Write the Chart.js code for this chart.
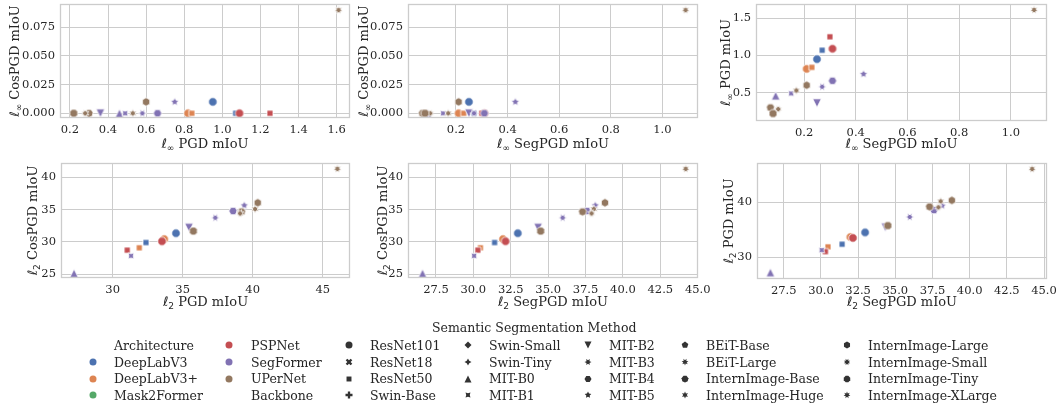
<!DOCTYPE html>
<html>
<head>
<meta charset="utf-8">
<script src="https://cdn.jsdelivr.net/npm/chart.js"></script>
<style>
  body { margin: 0; background: #fff; }
  #wrap { position: relative; width: 1060px; height: 409px; overflow: hidden; font-family: 'DejaVu Serif', serif; color: #262626; }
  #wrap canvas.panel { position: absolute; left: 0; top: 0; }
  .lg { position: absolute; font-size: 12.5px; line-height: 15px; white-space: nowrap; }
  .lgt { position: absolute; font-size: 12.5px; line-height: 15px; white-space: nowrap; }
  .lgm { position: absolute; }
</style>
</head>
<body>
<div id="wrap">
  <canvas id="c1" class="panel" width="1060" height="409"></canvas>
  <canvas id="c2" class="panel" width="1060" height="409"></canvas>
  <canvas id="c3" class="panel" width="1060" height="409"></canvas>
  <canvas id="c4" class="panel" width="1060" height="409"></canvas>
  <canvas id="c5" class="panel" width="1060" height="409"></canvas>
  <canvas id="c6" class="panel" width="1060" height="409"></canvas>
  <div id="legend"></div>
</div>
<script>
// categories
const architectures = ['DeepLabV3', 'DeepLabV3+', 'Mask2Former', 'PSPNet', 'SegFormer', 'UPerNet'];
const backbones = ['ResNet101', 'ResNet18', 'ResNet50', 'Swin-Base', 'Swin-Small', 'Swin-Tiny',
    'MIT-B0', 'MIT-B1', 'MIT-B2', 'MIT-B3', 'MIT-B4', 'MIT-B5', 'BEiT-Base', 'BEiT-Large',
    'InternImage-Base', 'InternImage-Huge', 'InternImage-Large', 'InternImage-Small',
    'InternImage-Tiny', 'InternImage-XLarge'];

// one entry per model
const modelArch = ['DeepLabV3', 'DeepLabV3', 'DeepLabV3+', 'DeepLabV3+', 'PSPNet', 'PSPNet',
    'SegFormer', 'SegFormer', 'SegFormer', 'SegFormer', 'SegFormer', 'SegFormer',
    'UPerNet', 'UPerNet', 'UPerNet', 'UPerNet', 'UPerNet', 'UPerNet'];
const modelBackbone = ['ResNet101', 'ResNet50', 'ResNet101', 'ResNet50', 'ResNet101', 'ResNet50',
    'MIT-B0', 'MIT-B1', 'MIT-B2', 'MIT-B3', 'MIT-B4', 'MIT-B5',
    'InternImage-Base', 'InternImage-Huge', 'InternImage-Large', 'InternImage-Small',
    'InternImage-Tiny', 'InternImage-XLarge'];

// mIoU under attack
const linfPGD    = [0.95, 1.07, 0.82, 0.84, 1.09, 1.25, 0.46, 0.49, 0.36, 0.58, 0.66, 0.75, 0.30, 0.53, 0.60, 0.28, 0.22, 1.61];
const linfCosPGD = [0.01, 0.00, 0.00, 0.00, 0.00, 0.00, 0.00, 0.00, 0.00, 0.00, 0.00, 0.01, 0.00, 0.00, 0.01, 0.00, 0.00, 0.09];
const linfSegPGD = [0.25, 0.27, 0.21, 0.23, 0.31, 0.30, 0.09, 0.15, 0.25, 0.27, 0.31, 0.43, 0.07, 0.17, 0.21, 0.10, 0.08, 1.09];
const l2PGD      = [34.52, 32.38, 33.68, 31.90, 33.52, 31.04, 27.24, 31.31, 35.45, 37.33, 38.60, 39.40, 39.20, 40.17, 40.36, 39.10, 35.76, 46.05];
const l2CosPGD   = [31.33, 29.88, 30.42, 29.07, 30.08, 28.70, 25.10, 27.83, 32.20, 33.73, 34.77, 35.65, 34.66, 35.08, 36.06, 34.40, 31.66, 41.30];
const l2SegPGD   = [32.97, 31.42, 31.98, 30.47, 32.15, 30.30, 26.60, 30.05, 34.33, 35.97, 37.60, 38.15, 37.30, 38.05, 38.80, 37.90, 34.50, 44.20];

// tick labels
const linfPGDTicks    = ['0.2', '0.4', '0.6', '0.8', '1.0', '1.2', '1.4', '1.6'];
const linfSegTicks    = ['0.2', '0.4', '0.6', '0.8', '1.0'];
const linfCosTicks    = ['0.000', '0.025', '0.050', '0.075'];
const linfPGDYTicks   = ['0.5', '1.0', '1.5'];
const l2PGDTicks      = ['30', '35', '40', '45'];
const l2CosTicks      = ['25', '30', '35', '40'];
const l2SegTicks      = ['27.5', '30.0', '32.5', '35.0', '37.5', '40.0', '42.5', '45.0'];
const l2PGDYTicks     = ['30', '40'];

// seaborn "deep" palette
const archColors = {
    'DeepLabV3': '#4c72b0', 'DeepLabV3+': '#dd8452', 'Mask2Former': '#55a868',
    'PSPNet': '#c44e52', 'SegFormer': '#8172b3', 'UPerNet': '#937860'
};
// seaborn default style markers, in backbone order
const markerSpecs = {
    'ResNet101': {t: 'circle'}, 'ResNet18': {t: 'plus', rot: 45}, 'ResNet50': {t: 'poly', n: 4, rot: 45},
    'Swin-Base': {t: 'plus', rot: 0}, 'Swin-Small': {t: 'poly', n: 4, rot: 0}, 'Swin-Tiny': {t: 'star', n: 4, rot: 0},
    'MIT-B0': {t: 'tri'}, 'MIT-B1': {t: 'star', n: 4, rot: 45}, 'MIT-B2': {t: 'tri', down: true},
    'MIT-B3': {t: 'star', n: 6, rot: 30}, 'MIT-B4': {t: 'poly', n: 6, rot: 30}, 'MIT-B5': {t: 'star', n: 5, rot: 0},
    'BEiT-Base': {t: 'poly', n: 5, rot: 0}, 'BEiT-Large': {t: 'star', n: 7, rot: 180 / 7},
    'InternImage-Base': {t: 'poly', n: 7, rot: 180 / 7}, 'InternImage-Huge': {t: 'star', n: 6, rot: 0},
    'InternImage-Large': {t: 'poly', n: 6, rot: 0}, 'InternImage-Small': {t: 'star', n: 8, rot: 22.5},
    'InternImage-Tiny': {t: 'poly', n: 8, rot: 22.5}, 'InternImage-XLarge': {t: 'star', n: 7, rot: 0}
};

const W = 1060, H = 409;
const TEXT = '#262626';
const GRID = '#cccccc';
const tickFont = {family: 'DejaVu Serif', size: 11.5};
const LABEL_SIZE = 13;

function drawShape(ctx, spec, r) {
    ctx.beginPath();
    if (spec.t === 'circle') {
        ctx.arc(0, 0, r, 0, Math.PI * 2);
    } else if (spec.t === 'plus') {
        const pts = [[-1, -3], [1, -3], [1, -1], [3, -1], [3, 1], [1, 1], [1, 3], [-1, 3], [-1, 1], [-3, 1], [-3, -1], [-1, -1]];
        const a = spec.rot * Math.PI / 180;
        pts.forEach(([px, py], i) => {
            const x = (px * Math.cos(a) - py * Math.sin(a)) * r / 3;
            const y = (px * Math.sin(a) + py * Math.cos(a)) * r / 3;
            i ? ctx.lineTo(x, y) : ctx.moveTo(x, y);
        });
        ctx.closePath();
    } else if (spec.t === 'tri') {
        const s = spec.down ? -1 : 1;
        ctx.moveTo(0, -r * s);
        ctx.lineTo(-r, r * s);
        ctx.lineTo(r, r * s);
        ctx.closePath();
    } else {
        const star = spec.t === 'star';
        const cnt = star ? spec.n * 2 : spec.n;
        for (let i = 0; i < cnt; i++) {
            const th = Math.PI / 2 + 2 * Math.PI * i / cnt + spec.rot * Math.PI / 180;
            const rr = star && i % 2 ? r * 0.5 : r;
            const x = rr * Math.cos(th), y = -rr * Math.sin(th);
            i ? ctx.lineTo(x, y) : ctx.moveTo(x, y);
        }
        ctx.closePath();
    }
}

function markerCanvas(spec, color, size, edge) {
    const c = document.createElement('canvas');
    c.width = c.height = 16;
    const g = c.getContext('2d');
    g.translate(8, 8);
    drawShape(g, spec, size / 2);
    g.fillStyle = color;
    g.fill();
    if (edge) {
        g.strokeStyle = '#ffffff';
        g.lineWidth = edge;
        g.stroke();
    }
    return c;
}

const pointImgs = modelArch.map((a, i) => markerCanvas(markerSpecs[modelBackbone[i]], archColors[a], 8.5, 0.8));

// ℓ with a subscript norm, then the rest of the label (like matplotlib mathtext)
function drawMathLabel(ctx, label, cx, cy, rot) {
    const [sub, rest] = label;
    const fs = LABEL_SIZE;
    const fEll = fs + 'px "DejaVu Sans"';
    const fSub = (fs * 0.7) + 'px "DejaVu Sans"';
    const fRest = fs + 'px "DejaVu Serif"';
    ctx.save();
    ctx.translate(cx, cy);
    ctx.rotate(rot);
    ctx.fillStyle = TEXT;
    ctx.textBaseline = 'alphabetic';
    ctx.textAlign = 'left';
    ctx.font = fEll; const w1 = ctx.measureText('ℓ').width;
    ctx.font = fSub; const w2 = ctx.measureText(sub).width;
    ctx.font = fRest; const w3 = ctx.measureText(' ' + rest).width;
    let x = -(w1 + w2 + w3) / 2;
    const by = fs * 0.36;
    ctx.font = fEll; ctx.fillText('ℓ', x, by); x += w1;
    ctx.font = fSub; ctx.fillText(sub, x, by + fs * 0.22); x += w2;
    ctx.font = fRest; ctx.fillText(' ' + rest, x, by);
    ctx.restore();
}

// light gray box around each plot area, plus the axis labels
const frame = {
    id: 'frame',
    afterDatasetsDraw(chart, args, opts) {
        const {left, top, right, bottom} = chart.chartArea;
        const ctx = chart.ctx;
        ctx.save();
        ctx.strokeStyle = GRID;
        ctx.lineWidth = 1.3;
        ctx.strokeRect(Math.round(left) + 0.5, Math.round(top) + 0.5, Math.round(right - left) - 1, Math.round(bottom - top) - 1);
        ctx.restore();
        const p = opts.panel;
        drawMathLabel(ctx, p.xTitle, (left + right) / 2, p.xTitleY, 0);
        drawMathLabel(ctx, p.yTitle, p.yTitleX, (top + bottom) / 2, -Math.PI / 2);
    }
};

function axis(ticksArr, range, fitFn) {
    return {
        type: 'linear',
        min: range[0],
        max: range[1],
        grid: {color: GRID, lineWidth: 1, drawTicks: false},
        border: {display: false},
        ticks: {
            font: tickFont, color: TEXT, padding: 5, autoSkip: false, maxRotation: 0,
            callback: (v, i) => ticksArr[i]
        },
        title: {display: false},
        afterBuildTicks: s => { s.ticks = ticksArr.map(t => ({value: parseFloat(t)})); },
        afterFit: fitFn
    };
}

const panels = [
    {id: 'c1', x: linfPGD, y: linfCosPGD, xt: linfPGDTicks, yt: linfCosTicks,
     xTitle: ['∞', 'PGD mIoU'], yTitle: ['∞', 'CosPGD mIoU'], xTitleY: 143, yTitleX: 14,
     xr: [0.148, 1.67], yr: [-0.0041, 0.0953], box: [60, 4, 350, 118], yw: 50, xh: 30},
    {id: 'c2', x: linfSegPGD, y: linfCosPGD, xt: linfSegTicks, yt: linfCosTicks,
     xTitle: ['∞', 'SegPGD mIoU'], yTitle: ['∞', 'CosPGD mIoU'], xTitleY: 143, yTitleX: 363,
     xr: [0.014, 1.138], yr: [-0.0041, 0.0953], box: [408, 4, 698, 118], yw: 50, xh: 30},
    {id: 'c3', x: linfSegPGD, y: linfPGD, xt: linfSegTicks, yt: linfPGDYTicks,
     xTitle: ['∞', 'SegPGD mIoU'], yTitle: ['∞', 'PGD mIoU'], xTitleY: 143, yTitleX: 725,
     xr: [0.014, 1.14], yr: [0.12, 1.69], box: [756, 4, 1047, 121], yw: 35, xh: 27},
    {id: 'c4', x: l2PGD, y: l2CosPGD, xt: l2PGDTicks, yt: l2CosTicks,
     xTitle: ['2', 'PGD mIoU'], yTitle: ['2', 'CosPGD mIoU'], xTitleY: 301.5, yTitleX: 32,
     xr: [26.31, 46.95], yr: [24.38, 42.22], box: [61, 163, 350, 278], yw: 35, xh: 30},
    {id: 'c5', x: l2SegPGD, y: l2CosPGD, xt: l2SegTicks, yt: l2CosTicks,
     xTitle: ['2', 'SegPGD mIoU'], yTitle: ['2', 'CosPGD mIoU'], xTitleY: 301.5, yTitleX: 382,
     xr: [25.63, 45.02], yr: [24.38, 42.22], box: [408, 163, 698, 278], yw: 35, xh: 30},
    {id: 'c6', x: l2SegPGD, y: l2PGD, xt: l2SegTicks, yt: l2PGDYTicks,
     xTitle: ['2', 'SegPGD mIoU'], yTitle: ['2', 'PGD mIoU'], xTitleY: 301.5, yTitleX: 728,
     xr: [25.7, 45.2], yr: [26.05, 47.15], box: [757, 163, 1047, 279], yw: 35, xh: 29}
];

panels.forEach(p => {
    const [L, T, R, B] = p.box;
    const points = modelArch.map((a, i) => ({x: p.x[i], y: p.y[i]}));
    new Chart(document.getElementById(p.id), {
        type: 'scatter',
        data: {datasets: [{data: points, pointStyle: pointImgs, pointRadius: 4}]},
        options: {
            responsive: false,
            animation: false,
            events: [],
            layout: {autoPadding: false, padding: {left: L - p.yw, top: T, right: W - R, bottom: H - B - p.xh}},
            plugins: {legend: {display: false}, tooltip: {enabled: false}, frame: {panel: p}},
            scales: {
                x: axis(p.xt, p.xr, s => {
                    s.height = p.xh;
                    s.paddingLeft = s.paddingRight = 0;
                }),
                y: axis(p.yt, p.yr, s => {
                    s.width = p.yw;
                    s.paddingTop = s.paddingBottom = 0;
                })
            }
        },
        plugins: [frame]
    });
});

// legend
const legend = document.getElementById('legend');
const legendCols = [[93, 114], [229, 251], [349, 370], [468, 489], [588, 609], [685, 706], [847, 868]];
const legendRows = [345, 362, 378.5, 395];
const items = [{label: 'Architecture'}]
    .concat(architectures.map(a => ({label: a, img: markerCanvas(markerSpecs['ResNet101'], archColors[a], 7, 0)})))
    .concat([{label: 'Backbone'}])
    .concat(backbones.map(b => ({label: b, img: markerCanvas(markerSpecs[b], '#333333', 7, 0)})));

const title = document.createElement('div');
title.className = 'lgt';
title.textContent = 'Semantic Segmentation Method';
legend.appendChild(title);
title.style.left = (534 - title.offsetWidth / 2) + 'px';
title.style.top = (327 - 7.5) + 'px';

items.forEach((it, k) => {
    const [mx, tx] = legendCols[Math.floor(k / 4)];
    const y = legendRows[k % 4];
    const d = document.createElement('div');
    d.className = 'lg';
    d.textContent = it.label;
    d.style.left = tx + 'px';
    d.style.top = (y - 7.5) + 'px';
    legend.appendChild(d);
    if (it.img) {
        it.img.className = 'lgm';
        it.img.style.left = (mx - 8) + 'px';
        it.img.style.top = (y - 8) + 'px';
        legend.appendChild(it.img);
    }
});
</script>
</body>
</html>
